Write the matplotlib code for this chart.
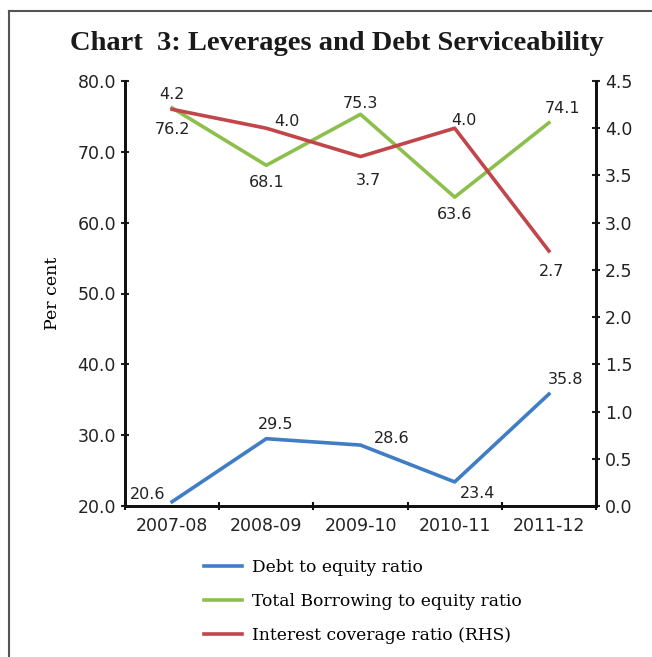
import matplotlib
matplotlib.use('Agg')
import matplotlib.pyplot as plt
from matplotlib.lines import Line2D

# Datos
years = ['2007-08', '2008-09', '2009-10', '2010-11', '2011-12']
debt_equity = [20.6, 29.5, 28.6, 23.4, 35.8]
borrowing_equity = [76.2, 68.1, 75.3, 63.6, 74.1]
interest_cov = [4.2, 4.0, 3.7, 4.0, 2.7]

c_blue = '#3f7dc5'
c_green = '#8dbf4c'
c_red = '#c1454a'

W, H = 652, 657
fig = plt.figure(figsize=(W / 100, H / 100), dpi=100)
ax = fig.add_axes([125 / W, 1 - 506 / H, (596 - 125) / W, (506 - 81) / H])
ax2 = ax.twinx()

x = list(range(len(years)))
l1, = ax.plot(x, debt_equity, color=c_blue, lw=2.6, label='Debt to equity ratio')
l2, = ax.plot(x, borrowing_equity, color=c_green, lw=2.6,
              label='Total Borrowing to equity ratio')
l3, = ax2.plot(x, interest_cov, color=c_red, lw=2.6,
               label='Interest coverage ratio (RHS)')

ax.set_xlim(-0.5, len(years) - 0.5)
ax.set_ylim(20, 80)
ax2.set_ylim(0, 4.5)
ax.set_yticks(range(20, 81, 10))
ax.set_yticklabels(['{0:.1f}'.format(v) for v in range(20, 81, 10)])
ax2.set_yticks([i * 0.5 for i in range(10)])
ax2.set_yticklabels(['{0:.1f}'.format(i * 0.5) for i in range(10)])
ax.set_xticks(x)
ax.set_xticklabels(years)
ax.set_xticks([i - 0.5 for i in range(len(years) + 1)], minor=True)
ax.tick_params(axis='x', which='major', length=0, labelsize=12.5,
               colors='#222222', pad=8)
ax.tick_params(axis='x', which='minor', length=6, width=1.5, direction='inout')
ax.tick_params(axis='y', length=6, width=1.5, direction='inout',
               labelsize=12.5, colors='#222222')
ax2.tick_params(axis='y', length=6, width=1.5, direction='inout',
                labelsize=12.5, colors='#222222')
for a in (ax, ax2):
    a.spines['top'].set_visible(False)
    for s in ('left', 'right', 'bottom'):
        a.spines[s].set_linewidth(2)
        a.spines[s].set_color('#111111')
ax.tick_params(axis='x', which='minor', colors='#111111')
ax.set_ylabel('Per cent', fontsize=12.5, family='DejaVu Serif', labelpad=12)

# Etiquetas de datos
fs = 11.5
tc = '#222222'
offs_blue = [(-0.07, 0.0, 'right', 'bottom'), (0.1, 0.9, 'center', 'bottom'),
             (0.14, 0.9, 'left', 'center'), (0.05, -0.6, 'left', 'top'),
             (0.18, 1.0, 'center', 'bottom')]
for i, v in enumerate(debt_equity):
    dx, dy, ha, va = offs_blue[i]
    ax.text(i + dx, v + dy, '{0:.1f}'.format(v), ha=ha, va=va, fontsize=fs, color=tc)
offs_green = [(0.0, -2.0, 'center', 'top'), (0.0, -1.4, 'center', 'top'),
              (0.0, 0.4, 'center', 'bottom'), (0.0, -1.4, 'center', 'top'),
              (0.15, 1.0, 'center', 'bottom')]
for i, v in enumerate(borrowing_equity):
    dx, dy, ha, va = offs_green[i]
    ax.text(i + dx, v + dy, '{0:.1f}'.format(v), ha=ha, va=va, fontsize=fs, color=tc)
offs_red = [(0.0, 0.08, 'center', 'bottom'), (0.08, -0.01, 'left', 'bottom'),
            (0.08, -0.17, 'center', 'top'), (0.1, 0.0, 'center', 'bottom'),
            (0.03, -0.14, 'center', 'top')]
for i, v in enumerate(interest_cov):
    dx, dy, ha, va = offs_red[i]
    ax2.text(i + dx, v + dy, '{0:.1f}'.format(v), ha=ha, va=va, fontsize=fs, color=tc)

# Leyenda
fig.legend([l1, l2, l3], [l1.get_label(), l2.get_label(), l3.get_label()],
           loc='upper left', bbox_to_anchor=(189 / W, 1 - 544 / H),
           frameon=False, handlelength=2.2, handletextpad=0.6,
           labelspacing=0.98, prop={'family': 'DejaVu Serif', 'size': 12.3})

# Título
fig.text(337 / W, 1 - 44 / H, 'Chart  3: Leverages and Debt Serviceability',
         ha='center', va='center', fontsize=20.5, fontweight='bold',
         family='Liberation Serif', color='#1a1a1a')

# Marco
fig.add_artist(Line2D([9 / W, 9 / W], [0, 1 - 11 / H], color='#555555', lw=1.5,
                      transform=fig.transFigure))
fig.add_artist(Line2D([9 / W, 1], [1 - 11 / H, 1 - 11 / H], color='#555555',
                      lw=1.5, transform=fig.transFigure))

fig.savefig('out.png', dpi=100)
